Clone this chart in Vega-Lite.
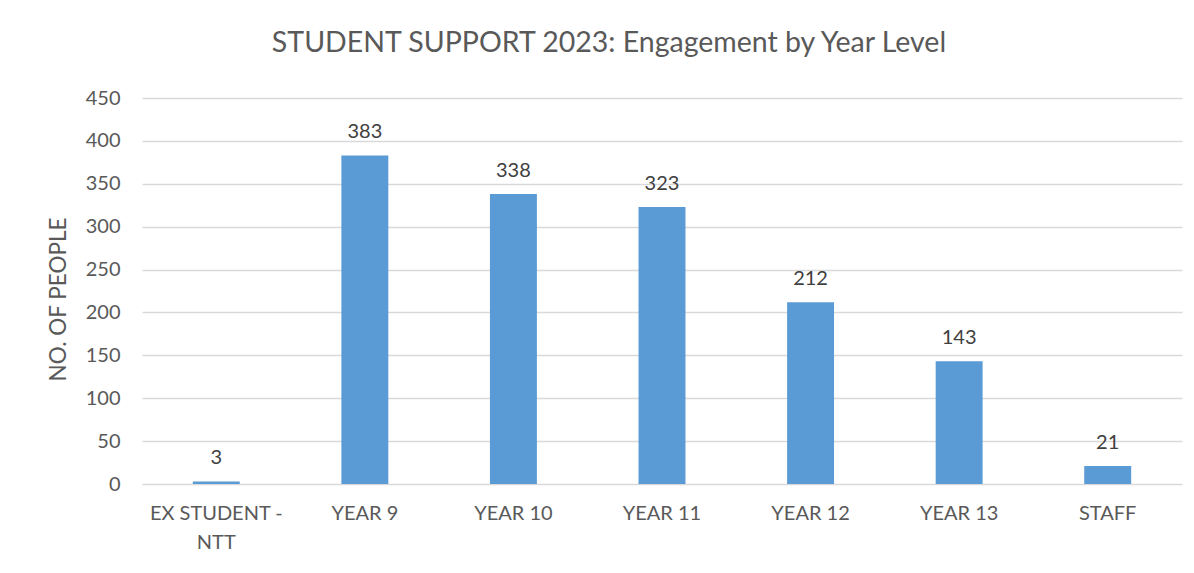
{
  "$schema": "https://vega.github.io/schema/vega-lite/v6.json",
  "autosize": {"type": "none"},
  "width": 1040,
  "height": 386,
  "padding": {"left": 142, "top": 98, "right": 12, "bottom": 89},
  "background": "white",
  "title": {
    "text": "STUDENT SUPPORT 2023: Engagement by Year Level",
    "font": "Lato",
    "fontSize": 28.5,
    "fontWeight": "normal",
    "color": "#595959",
    "dx": -53,
    "offset": 31
  },
  "data": {
    "values": [
      {"category": "EX STUDENT - NTT", "people": 3},
      {"category": "YEAR 9", "people": 383},
      {"category": "YEAR 10", "people": 338},
      {"category": "YEAR 11", "people": 323},
      {"category": "YEAR 12", "people": 212},
      {"category": "YEAR 13", "people": 143},
      {"category": "STAFF", "people": 21}
    ]
  },
  "encoding": {
    "x": {
      "field": "category",
      "type": "nominal",
      "sort": null,
      "scale": {"paddingInner": 0.684, "paddingOuter": 0.342},
      "axis": {
        "title": null,
        "labelAngle": 0,
        "labelFont": "Lato",
        "labelFontSize": 20,
        "labelColor": "#595959",
        "labelPadding": 19,
        "labelLineHeight": 29,
        "labelExpr": "datum.label == 'EX STUDENT - NTT' ? ['EX STUDENT -', 'NTT'] : datum.label",
        "ticks": false,
        "domain": false,
        "grid": false
      }
    },
    "y": {
      "field": "people",
      "type": "quantitative",
      "scale": {"domain": [0, 450]},
      "axis": {
        "title": "NO. OF PEOPLE",
        "titleFont": "Lato",
        "titleFontSize": 22.5,
        "titleFontWeight": "normal",
        "titleColor": "#595959",
        "titlePadding": 15,
        "titleY": 201,
        "values": [0, 50, 100, 150, 200, 250, 300, 350, 400, 450],
        "labelFont": "Lato",
        "labelFontSize": 20,
        "labelColor": "#595959",
        "labelPadding": 22,
        "ticks": false,
        "domain": false,
        "grid": true,
        "gridColor": "#d9d9d9",
        "gridWidth": 1.5
      }
    }
  },
  "layer": [
    {"mark": {"type": "bar", "color": "#5B9BD5"}},
    {
      "mark": {"type": "text", "baseline": "bottom", "dy": -13, "font": "Lato", "fontSize": 20, "color": "#404040"},
      "encoding": {"text": {"field": "people", "type": "quantitative"}}
    }
  ],
  "config": {"view": {"stroke": null}}
}
